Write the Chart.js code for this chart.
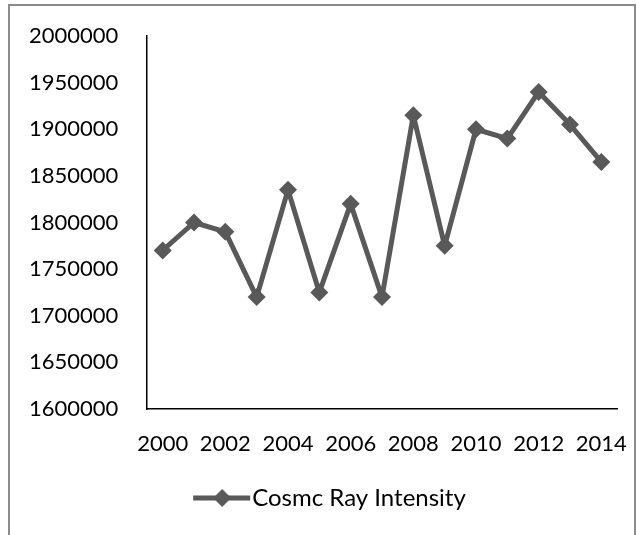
<!DOCTYPE html>
<html>
<head>
<meta charset="utf-8">
<script src="https://cdn.jsdelivr.net/npm/chart.js@4"></script>
<style>
  body { margin: 0; background: #fff; overflow: hidden; }
  #frame { position: absolute; left: 8px; top: 4px; width: 624px; height: 600px; border: 2px solid #8c8c8c; border-bottom: none; }
  #wrap { position: absolute; left: 0; top: 0; width: 637px; height: 535px; }
</style>
</head>
<body>
<div id="frame"></div>
<div id="wrap"><canvas id="grafico"></canvas></div>
<script>
var years = ['2000', '2001', '2002', '2003', '2004', '2005', '2006', '2007', '2008', '2009', '2010', '2011', '2012', '2013', '2014'];
var intensity = [1770000, 1800000, 1790000, 1720000, 1835000, 1725000, 1820000, 1720000, 1915000, 1775000, 1900000, 1890000, 1940000, 1905000, 1865000];
var seriesName = 'Cosmc Ray Intensity';
var lineColor = '#595959';

// legend icon: line with a diamond, drawn so the line ends right where the text starts
var icon = document.createElement('canvas');
icon.width = 82; icon.height = 20;
var ic = icon.getContext('2d');
ic.strokeStyle = lineColor; ic.lineWidth = 5;
ic.beginPath(); ic.moveTo(24, 10); ic.lineTo(81, 10); ic.stroke();
ic.fillStyle = lineColor;
ic.beginPath(); ic.moveTo(53, 1); ic.lineTo(62, 10); ic.lineTo(53, 19); ic.lineTo(44, 10); ic.closePath(); ic.fill();

document.addEventListener("DOMContentLoaded", function() {
  Chart.defaults.font.family = "Lato, 'Open Sans', sans-serif";
  Chart.defaults.font.size = 22;
  Chart.defaults.color = '#000';
  var ctx = document.getElementById('grafico').getContext('2d');
  new Chart(ctx, {
    type: 'line',
    data: {
      labels: years,
      datasets: [{
        label: seriesName,
        data: intensity,
        borderColor: lineColor,
        backgroundColor: lineColor,
        borderWidth: 5,
        borderJoinStyle: 'round',
        pointStyle: 'rectRot',
        pointRadius: 9,
        pointHoverRadius: 9,
        pointBorderWidth: 0,
        tension: 0
      }]
    },
    options: {
      responsive: true,
      maintainAspectRatio: false,
      animation: false,
      layout: { padding: { left: 29, right: 20, top: 36, bottom: 15 } },
      scales: {
        x: {
          offset: true,
          grid: { display: false, drawTicks: false },
          border: { color: '#000', width: 1.5 },
          ticks: {
            autoSkip: false,
            maxRotation: 0,
            padding: 22,
            callback: function(v, i) { return i % 2 === 0 ? years[i] : ''; }
          },
          afterFit: function(s) { s.height = 67; s.paddingLeft = 0; s.paddingRight = 0; }
        },
        y: {
          min: 1600000,
          max: 2000000,
          grid: { display: false, drawTicks: false },
          border: { color: '#000', width: 1.5 },
          ticks: {
            stepSize: 50000,
            padding: 0,
            crossAlign: 'far',
            callback: function(v) { return String(v); }
          },
          afterFit: function(s) { s.width = 118; s.paddingTop = 0; s.paddingBottom = 0; }
        }
      },
      plugins: {
        legend: {
          position: 'bottom',
          labels: {
            font: { size: 24 },
            usePointStyle: true,
            pointStyleWidth: 60,
            generateLabels: function(chart) {
              return [{ text: seriesName, pointStyle: icon, fillStyle: lineColor, strokeStyle: lineColor, lineWidth: 0, datasetIndex: 0, hidden: false }];
            }
          }
        },
        tooltip: { enabled: false }
      }
    }
  });
});
</script>
</body>
</html>
